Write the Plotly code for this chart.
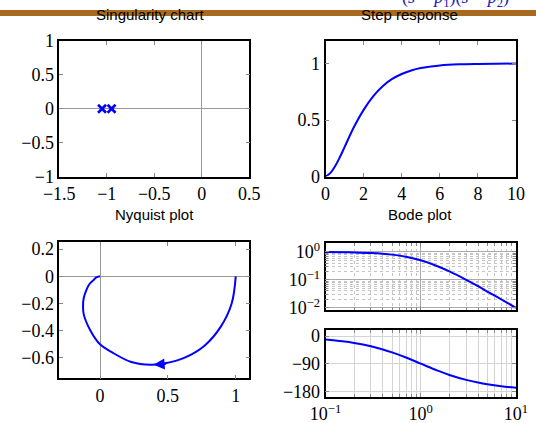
import plotly.graph_objects as go

# Pole locations of the second-order system
pole_re = [-1.05, -0.95]
pole_im = [0.0, 0.0]

# Step response samples
step_t = [0, 0.25, 0.5, 0.75, 1, 1.5, 2, 2.5, 3, 3.5, 4, 4.5, 5, 5.5, 6, 7, 8, 9, 10]
step_y = [0.0, 0.03, 0.09, 0.17, 0.26, 0.44, 0.59, 0.71, 0.80, 0.864, 0.908,
          0.939, 0.960, 0.973, 0.983, 0.993, 0.997, 0.999, 1.0]

# Nyquist curve (real / imaginary parts)
nyq_re = [1.00, 0.97, 0.89, 0.77, 0.62, 0.48, 0.375, 0.23, 0.09, 0.00,
          -0.07, -0.12, -0.125, -0.12, -0.10, -0.08, -0.05, -0.03, -0.01, 0.00]
nyq_im = [0.00, -0.20, -0.37, -0.51, -0.60, -0.64, -0.65, -0.63, -0.56, -0.50,
          -0.40, -0.28, -0.22, -0.16, -0.10, -0.06, -0.03, -0.01, -0.002, 0.00]

# Bode data
bode_w = [0.1, 0.15, 0.2, 0.3, 0.4, 0.5, 0.7, 1, 1.5, 2, 3, 4, 5, 7, 10]
bode_mag = [0.990, 0.978, 0.962, 0.917, 0.862, 0.80, 0.671, 0.50, 0.308,
            0.20, 0.10, 0.059, 0.038, 0.020, 0.0099]
bode_phase = [-11.4, -17.1, -22.6, -33.4, -43.6, -53.1, -69.9, -90.0, -112.6,
              -126.9, -143.1, -151.9, -157.4, -163.7, -168.6]

# Tick labels
sing_x_ticks = [-1.5, -1, -0.5, 0, 0.5]
sing_y_ticks = [-1, -0.5, 0, 0.5, 1]
step_x_ticks = [0, 2, 4, 6, 8, 10]
step_y_ticks = [0, 0.5, 1]
nyq_x_ticks = [0, 0.5, 1]
nyq_y_ticks = [-0.6, -0.4, -0.2, 0, 0.2]
mag_ticks = [1, 0.1, 0.01]
mag_ticktext = ["10<sup>0</sup>", "10<sup>−1</sup>", "10<sup>−2</sup>"]
freq_ticks = [0.1, 1, 10]
freq_ticktext = ["10<sup>−1</sup>", "10<sup>0</sup>", "10<sup>1</sup>"]
phase_ticks = [-180, -90, 0]

BLUE = "#0000FF"
W, H = 536, 423

minor_dec = [m * 10 ** e for e in (-3, -2, -1, 0, 1) for m in range(2, 10)]

fig = go.Figure()

fig.add_trace(go.Scatter(x=pole_re, y=pole_im, mode="markers",
                         marker=dict(symbol="x-thin-open", size=8, color=BLUE,
                                     line=dict(color=BLUE, width=2.6)),
                         xaxis="x", yaxis="y"))
fig.add_trace(go.Scatter(x=step_t, y=step_y, mode="lines", line_shape="spline",
                         line=dict(color=BLUE, width=2), xaxis="x2", yaxis="y2"))
fig.add_trace(go.Scatter(x=nyq_re, y=nyq_im, mode="lines", line_shape="spline",
                         line=dict(color=BLUE, width=2), xaxis="x3", yaxis="y3"))
fig.add_trace(go.Scatter(x=bode_w, y=bode_mag, mode="lines", line_shape="spline",
                         line=dict(color=BLUE, width=2), xaxis="x4", yaxis="y4"))
fig.add_trace(go.Scatter(x=bode_w, y=bode_phase, mode="lines", line_shape="spline",
                         line=dict(color=BLUE, width=2), xaxis="x5", yaxis="y5"))

tick_font = dict(family="Liberation Serif", size=18, color="black")
frame = dict(showline=True, linecolor="black", linewidth=1.6, mirror="ticks",
             ticks="inside", ticklen=4, tickcolor="#888888", tickwidth=1,
             tickfont=tick_font, showgrid=False, zeroline=False,
             automargin=False)


def px_x(a, b):
    return [a / W, b / W]


def px_y(top, bottom):
    return [1 - bottom / H, 1 - top / H]


layout = dict(
    width=W, height=H, margin=dict(l=0, r=0, t=0, b=0),
    paper_bgcolor="white", plot_bgcolor="white", showlegend=False,
    xaxis=dict(frame, domain=px_x(59.3, 249.3), range=[-1.5, 0.5],
               tickvals=sing_x_ticks, zeroline=True, zerolinecolor="#999999",
               zerolinewidth=1.2, anchor="y"),
    yaxis=dict(frame, domain=px_y(41, 176.5), range=[-1, 1],
               tickvals=sing_y_ticks, zeroline=True, zerolinecolor="#999999",
               zerolinewidth=1.2, anchor="x"),
    xaxis2=dict(frame, domain=px_x(325.5, 516), range=[0, 10],
                tickvals=step_x_ticks, anchor="y2"),
    yaxis2=dict(frame, domain=px_y(41, 176.5), range=[0, 1.2],
                tickvals=step_y_ticks, anchor="x2"),
    xaxis3=dict(frame, domain=px_x(59.3, 249.3), range=[-0.3, 1.1],
                tickvals=nyq_x_ticks, zeroline=True, zerolinecolor="#999999",
                zerolinewidth=1.2, anchor="y3"),
    yaxis3=dict(frame, domain=px_y(242.3, 378.3), range=[-0.75, 0.25],
                tickvals=nyq_y_ticks, zeroline=True, zerolinecolor="#999999",
                zerolinewidth=1.2, anchor="x3"),
    xaxis4=dict(frame, domain=px_x(325.5, 516), type="log", range=[-1, 1],
                tickvals=freq_ticks, showticklabels=False, anchor="y4",
                showgrid=True, gridcolor="#AAAAAA", gridwidth=1,
                minor=dict(tickvals=minor_dec, ticks="inside", ticklen=3,
                           tickcolor="#888888", showgrid=True,
                           gridcolor="#C4C4C4", griddash="dot", gridwidth=1)),
    yaxis4=dict(frame, domain=px_y(242.7, 310), type="log",
                range=[-2.08, 0.33], tickvals=mag_ticks, ticktext=mag_ticktext,
                anchor="x4", showgrid=True, gridcolor="#AAAAAA", gridwidth=1,
                minor=dict(tickvals=minor_dec, ticks="inside", ticklen=3,
                           tickcolor="#888888", showgrid=True,
                           gridcolor="#C4C4C4", griddash="dot", gridwidth=1)),
    xaxis5=dict(frame, domain=px_x(325.5, 516), type="log", range=[-1, 1],
                tickvals=freq_ticks, ticktext=freq_ticktext, anchor="y5",
                showgrid=True, gridcolor="#D4D4D4", gridwidth=1,
                minor=dict(tickvals=minor_dec, ticks="inside", ticklen=3,
                           tickcolor="#888888", showgrid=True,
                           gridcolor="#D4D4D4", gridwidth=1)),
    yaxis5=dict(frame, domain=px_y(330, 396.7), range=[-198, 20],
                tickvals=phase_ticks, anchor="x5", showgrid=True,
                gridcolor="#D4D4D4", gridwidth=1),
)
fig.update_layout(**layout)

# Slide header bar
fig.add_shape(type="rect", xref="paper", yref="paper", x0=0, x1=1,
              y0=1 - 16 / H, y1=1 - 10 / H, fillcolor="#A86A1E",
              line=dict(width=0), layer="below")

title_font = dict(family="Liberation Sans", size=15, color="black")
titles = [("Singularity chart", 150, 14), ("Step response", 409, 14),
          ("Nyquist plot", 154, 215), ("Bode plot", 420, 215)]
for text, cx, cy in titles:
    fig.add_annotation(text=text, xref="paper", yref="paper", x=cx / W,
                       y=1 - cy / H, xanchor="center", yanchor="middle",
                       showarrow=False, font=title_font)

# Header formula, cut by the top edge of the slide
fig.add_annotation(text="(<i>s</i> − <i>p</i><sub>1</sub>)(<i>s</i> − <i>p</i><sub>2</sub>)",
                   xref="paper", yref="paper", x=400 / W, y=1 - 12 / H,
                   xanchor="left", yanchor="bottom", showarrow=False,
                   font=dict(family="Liberation Serif", size=18, color="#2020C0"))

# Direction arrow on the Nyquist curve
fig.add_annotation(x=nyq_re[6] + 0.02, y=nyq_im[6], xref="x3", yref="y3",
                   ax=14, ay=-1, text="", showarrow=True, arrowhead=2,
                   arrowsize=1.1, arrowwidth=2, arrowcolor=BLUE, standoff=0)

fig.write_html("out.html")
